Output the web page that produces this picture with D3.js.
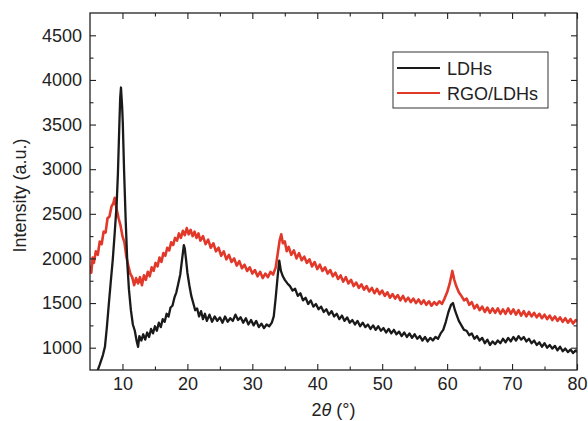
<!DOCTYPE html>
<html>
<head>
<meta charset="utf-8">
<script src="https://cdn.jsdelivr.net/npm/d3@7"></script>
<style>
  body { margin: 0; background: #fff; }
  svg text { font-family: "Liberation Sans", Arial, sans-serif; fill: #222; }
</style>
</head>
<body>
<script>
// XRD patterns, [2theta, intensity]
var ldhs = [
  [5.0,560],[5.5,630],[6.0,710],[6.5,810],[7.0,920],[7.3,1010],[7.6,1230],[7.9,1490],[8.2,1740],[8.5,1980],
  [8.8,2280],[9.1,2600],[9.3,2950],[9.5,3450],[9.65,3800],[9.77,3915],[9.85,3820],[9.95,3700],[10.05,3520],[10.25,2980],
  [10.5,2420],[10.75,1940],[11.0,1650],[11.3,1420],[11.6,1260],[11.9,1190],[12.2,1070],[12.4,1010],[12.6,1130],[12.9,1080],
  [13.2,1150],[13.5,1090],[13.8,1170],[14.1,1120],[14.4,1210],[14.7,1160],[15.0,1240],[15.3,1190],[15.6,1280],[15.9,1230],
  [16.2,1320],[16.5,1290],[16.8,1380],[17.1,1350],[17.4,1450],[17.7,1470],[18.0,1560],[18.3,1620],[18.6,1720],[18.9,1820],
  [19.2,2000],[19.45,2150],[19.6,2110],[19.8,1980],[20.0,1840],[20.3,1700],[20.6,1580],[20.9,1500],[21.2,1420],[21.5,1440],
  [21.8,1350],[22.1,1410],[22.4,1320],[22.7,1380],[23.0,1300],[23.4,1370],[23.8,1290],[24.2,1350],[24.6,1300],[25.0,1340],
  [25.4,1280],[25.8,1350],[26.2,1290],[26.6,1330],[27.0,1300],[27.4,1370],[27.8,1310],[28.2,1340],[28.6,1280],[29.0,1330],
  [29.4,1260],[29.8,1310],[30.2,1250],[30.6,1300],[31.0,1230],[31.4,1270],[31.8,1220],[32.2,1260],[32.6,1240],[33.0,1280],
  [33.3,1350],[33.6,1560],[33.9,1800],[34.15,1975],[34.4,1860],[34.7,1800],[35.0,1760],[35.4,1720],[35.8,1690],[36.2,1640],
  [36.6,1660],[37.0,1580],[37.4,1610],[37.8,1530],[38.2,1560],[38.6,1490],[39.0,1530],[39.4,1460],[39.8,1490],[40.2,1430],
  [40.6,1460],[41.0,1400],[41.4,1430],[41.8,1370],[42.2,1410],[42.6,1350],[43.0,1380],[43.4,1320],[43.8,1360],[44.2,1300],
  [44.6,1340],[45.0,1280],[45.4,1310],[45.8,1260],[46.2,1300],[46.6,1240],[47.0,1280],[47.4,1230],[47.8,1260],[48.2,1210],
  [48.6,1250],[49.0,1200],[49.4,1240],[49.8,1190],[50.2,1220],[50.6,1170],[51.0,1210],[51.4,1160],[51.8,1200],[52.2,1150],
  [52.6,1180],[53.0,1130],[53.4,1170],[53.8,1120],[54.2,1160],[54.6,1110],[55.0,1150],[55.4,1100],[55.8,1130],[56.2,1080],
  [56.6,1120],[57.0,1070],[57.4,1110],[57.8,1080],[58.2,1120],[58.6,1100],[59.0,1160],[59.4,1200],[59.8,1290],[60.2,1400],
  [60.6,1480],[60.9,1500],[61.2,1420],[61.5,1360],[61.8,1300],[62.2,1250],[62.6,1200],[63.0,1190],[63.4,1140],[63.8,1160],
  [64.2,1100],[64.6,1130],[65.0,1080],[65.4,1110],[65.8,1050],[66.2,1090],[66.6,1030],[67.0,1070],[67.4,1040],[67.8,1080],
  [68.2,1050],[68.6,1100],[69.0,1060],[69.4,1110],[69.8,1070],[70.2,1120],[70.6,1080],[71.0,1130],[71.4,1090],[71.8,1120],
  [72.2,1070],[72.6,1100],[73.0,1050],[73.4,1080],[73.8,1030],[74.2,1060],[74.6,1010],[75.0,1050],[75.4,1000],[75.8,1030],
  [76.2,990],[76.6,1020],[77.0,970],[77.4,1010],[77.8,960],[78.2,990],[78.6,950],[79.0,980],[79.4,940],[79.8,970],[80.0,950]
];

var rgoLdhs = [
  [5.0,1920],[5.2,1840],[5.4,2010],[5.6,1950],[5.9,2080],[6.2,2040],[6.5,2190],[6.8,2160],[7.1,2300],[7.4,2290],
  [7.7,2450],[8.0,2470],[8.3,2580],[8.6,2620],[8.8,2680],[9.0,2590],[9.2,2520],[9.4,2450],[9.7,2370],[10.0,2250],
  [10.3,2180],[10.6,2020],[10.9,1920],[11.2,1830],[11.5,1790],[11.8,1700],[12.1,1780],[12.4,1720],[12.7,1790],[13.0,1700],
  [13.3,1810],[13.6,1760],[13.9,1850],[14.2,1800],[14.5,1900],[14.8,1860],[15.1,1950],[15.4,1910],[15.7,2010],[16.0,1960],
  [16.3,2060],[16.6,2030],[16.9,2120],[17.2,2090],[17.5,2180],[17.8,2150],[18.1,2230],[18.4,2200],[18.7,2280],[19.0,2230],
  [19.3,2310],[19.6,2260],[19.9,2340],[20.2,2270],[20.5,2320],[20.8,2250],[21.1,2300],[21.4,2230],[21.7,2280],[22.0,2200],
  [22.4,2250],[22.8,2160],[23.2,2210],[23.6,2120],[24.0,2170],[24.4,2080],[24.8,2120],[25.2,2030],[25.6,2080],[26.0,1990],
  [26.4,2040],[26.8,1960],[27.2,2000],[27.6,1920],[28.0,1970],[28.4,1890],[28.8,1930],[29.2,1860],[29.6,1900],[30.0,1830],
  [30.4,1870],[30.8,1800],[31.2,1850],[31.6,1780],[32.0,1830],[32.4,1790],[32.8,1850],[33.2,1820],[33.6,1900],[33.9,2050],
  [34.2,2200],[34.45,2270],[34.7,2170],[35.0,2190],[35.3,2080],[35.6,2130],[36.0,2040],[36.4,2090],[36.8,2000],[37.2,2060],
  [37.6,1980],[38.0,2020],[38.4,1950],[38.8,1990],[39.2,1910],[39.6,1960],[40.0,1880],[40.4,1930],[40.8,1860],[41.2,1900],
  [41.6,1830],[42.0,1870],[42.4,1800],[42.8,1840],[43.2,1770],[43.6,1810],[44.0,1740],[44.4,1790],[44.8,1720],[45.2,1760],
  [45.6,1690],[46.0,1730],[46.4,1670],[46.8,1710],[47.2,1650],[47.6,1690],[48.0,1630],[48.4,1670],[48.8,1610],[49.2,1660],
  [49.6,1600],[50.0,1640],[50.4,1580],[50.8,1620],[51.2,1560],[51.6,1600],[52.0,1550],[52.4,1590],[52.8,1530],[53.2,1580],
  [53.6,1520],[54.0,1560],[54.4,1510],[54.8,1550],[55.2,1500],[55.6,1540],[56.0,1490],[56.4,1530],[56.8,1480],[57.2,1520],
  [57.6,1470],[58.0,1510],[58.4,1480],[58.8,1520],[59.2,1490],[59.6,1550],[60.0,1620],[60.4,1720],[60.8,1860],[61.1,1760],
  [61.4,1690],[61.8,1620],[62.2,1580],[62.6,1530],[63.0,1550],[63.4,1480],[63.8,1510],[64.2,1440],[64.6,1480],[65.0,1420],
  [65.4,1460],[65.8,1400],[66.2,1450],[66.6,1390],[67.0,1440],[67.4,1390],[67.8,1440],[68.2,1380],[68.6,1430],[69.0,1380],
  [69.4,1440],[69.8,1380],[70.2,1430],[70.6,1370],[71.0,1420],[71.4,1360],[71.8,1410],[72.2,1350],[72.6,1400],[73.0,1350],
  [73.4,1390],[73.8,1340],[74.2,1380],[74.6,1330],[75.0,1370],[75.4,1320],[75.8,1360],[76.2,1310],[76.6,1350],[77.0,1300],
  [77.4,1340],[77.8,1290],[78.2,1330],[78.6,1280],[79.0,1320],[79.4,1270],[79.8,1310],[80.0,1290]
];

var seriesNames = ["LDHs", "RGO/LDHs"];
var seriesColors = ["#1a1a1a", "#e2382a"];
var xMajor = [10, 20, 30, 40, 50, 60, 70, 80];
var xMinor = [15, 25, 35, 45, 55, 65, 75];
var yMajor = [1000, 1500, 2000, 2500, 3000, 3500, 4000, 4500];
var yMinor = [1250, 1750, 2250, 2750, 3250, 3750, 4250];

var width = 588, height = 421;
var margin = {top: 13, right: 11, bottom: 51, left: 90};
var plotW = width - margin.left - margin.right,
    plotH = height - margin.top - margin.bottom;

var x = d3.scaleLinear().domain([5, 80]).range([0, plotW]);
var y = d3.scaleLinear().domain([750, 4750]).range([plotH, 0]);

var svg = d3.select("body").append("svg")
    .attr("width", width)
    .attr("height", height);

var g = svg.append("g")
    .attr("transform", "translate(" + margin.left + "," + margin.top + ")");

g.append("clipPath").attr("id", "clip")
  .append("rect").attr("width", plotW).attr("height", plotH);

var line = d3.line()
    .x(function(d) { return x(d[0]); })
    .y(function(d) { return y(d[1]); });

// red first so black sits on top
g.append("path")
    .datum(rgoLdhs)
    .attr("clip-path", "url(#clip)")
    .attr("fill", "none")
    .attr("stroke", seriesColors[1])
    .attr("stroke-width", 2.6)
    .attr("stroke-linejoin", "round")
    .attr("d", line);

g.append("path")
    .datum(ldhs)
    .attr("clip-path", "url(#clip)")
    .attr("fill", "none")
    .attr("stroke", seriesColors[0])
    .attr("stroke-width", 2.3)
    .attr("stroke-linejoin", "round")
    .attr("d", line);

// axes, ticks pointing inward
function tickAxis(axis, vals, size) {
  return axis.tickValues(vals).tickSizeInner(-size).tickSizeOuter(0).tickFormat("");
}

var axBottom = g.append("g").attr("transform", "translate(0," + plotH + ")");
axBottom.call(tickAxis(d3.axisBottom(x), xMinor, 3.5));
axBottom.append("g").call(d3.axisBottom(x).tickValues(xMajor).tickSizeInner(-6).tickSizeOuter(0).tickPadding(7));

var axTop = g.append("g");
axTop.call(tickAxis(d3.axisTop(x), xMinor, 3.5));
axTop.append("g").call(tickAxis(d3.axisTop(x), xMajor, 6));

var axLeft = g.append("g");
axLeft.call(tickAxis(d3.axisLeft(y), yMinor, 3.5));
axLeft.append("g").call(d3.axisLeft(y).tickValues(yMajor).tickFormat(d3.format("d"))
    .tickSizeInner(-6).tickSizeOuter(0).tickPadding(8));

var axRight = g.append("g").attr("transform", "translate(" + plotW + ",0)");
axRight.call(tickAxis(d3.axisRight(y), yMinor, 3.5));
axRight.append("g").call(tickAxis(d3.axisRight(y), yMajor, 6));

g.selectAll(".domain").remove();
g.selectAll(".tick line").attr("stroke", "#222").attr("stroke-width", 1.1);
g.selectAll(".tick text")
    .style("font-size", "18px")
    .attr("fill", "#222");

g.append("rect")
    .attr("width", plotW)
    .attr("height", plotH)
    .attr("fill", "none")
    .attr("stroke", "#222")
    .attr("stroke-width", 1.3);

// axis titles
svg.append("text")
    .attr("transform", "translate(26," + (margin.top + plotH / 2 + 4) + ") rotate(-90)")
    .attr("text-anchor", "middle")
    .style("font-size", "18px")
    .text("Intensity (a.u.)");

var xt = svg.append("text")
    .attr("x", margin.left + plotW / 2)
    .attr("y", 416)
    .attr("text-anchor", "middle")
    .style("font-size", "18px");
xt.append("tspan").text("2");
xt.append("tspan").style("font-style", "italic").text("θ");
xt.append("tspan").text(" (°)");

// legend
var legend = svg.append("g").attr("transform", "translate(393,52)");
legend.append("rect")
    .attr("width", 155)
    .attr("height", 56)
    .attr("fill", "#fff")
    .attr("stroke", "#333")
    .attr("stroke-width", 1);

seriesNames.forEach(function(name, i) {
  var yy = 16 + i * 25;
  legend.append("line")
      .attr("x1", 4).attr("x2", 47)
      .attr("y1", yy).attr("y2", yy)
      .attr("stroke", seriesColors[i])
      .attr("stroke-width", 2);
  legend.append("text")
      .attr("x", 54)
      .attr("y", yy + 6.5)
      .style("font-size", "18px")
      .text(name);
});
</script>
</body>
</html>
